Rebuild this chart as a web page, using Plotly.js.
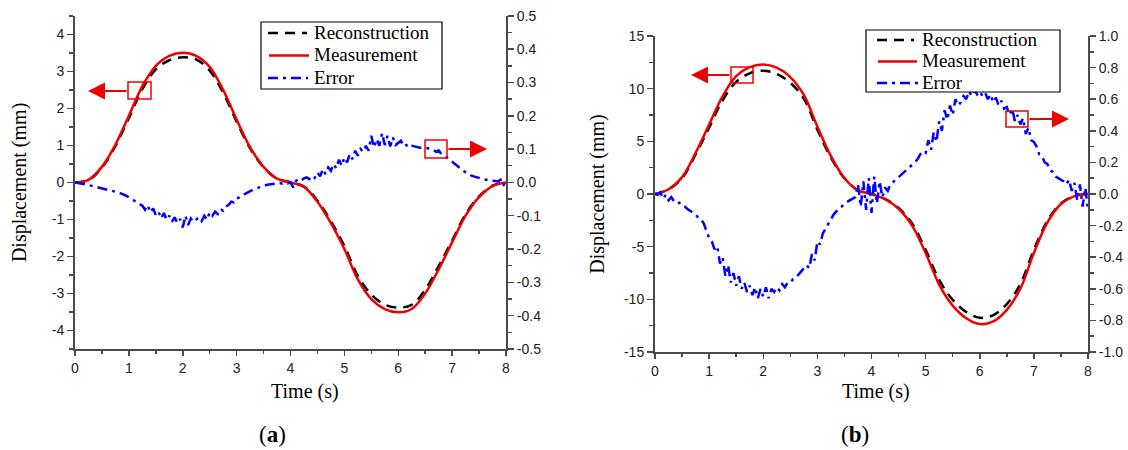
<!DOCTYPE html>
<html>
<head>
<meta charset="utf-8">
<script src="https://cdn.plot.ly/plotly-3.0.1.min.js"></script>
<style>
  html, body { margin: 0; padding: 0; background: #ffffff; }
  #chart { width: 1128px; height: 450px; }
</style>
</head>
<body>
<div id="chart"></div>
<script>
// ---- data -------------------------------------------------------------
// Time samples of the displacement curves (s)
const curveTime = [0, 0.25, 0.5, 0.75, 1, 1.25, 1.5, 1.75, 2, 2.25, 2.5, 2.75, 3, 3.25, 3.5, 3.75,
                   4, 4.25, 4.5, 4.75, 5, 5.25, 5.5, 5.75, 6, 6.25, 6.5, 6.75, 7, 7.25, 7.5, 7.75, 8];

// (a) displacement, mm
const measA = [0, 0.07, 0.42, 1.02, 1.8, 2.6, 3.15, 3.42, 3.5, 3.42, 3.12, 2.5, 1.7, 0.95, 0.42, 0.1,
               0, -0.12, -0.52, -1.1, -1.8, -2.62, -3.15, -3.42, -3.51, -3.42, -3.0, -2.35, -1.62, -0.9, -0.4, -0.1, 0];
const reconA = [0, 0.06, 0.4, 0.98, 1.74, 2.52, 3.05, 3.3, 3.38, 3.32, 3.02, 2.42, 1.64, 0.92, 0.41, 0.1,
                0, -0.11, -0.49, -1.05, -1.72, -2.52, -3.03, -3.3, -3.38, -3.31, -2.9, -2.26, -1.57, -0.86, -0.38, -0.09, 0];

// (b) displacement, mm
const measB = [0, 0.45, 1.6, 3.9, 6.6, 9.3, 11.2, 12.05, 12.3, 12.0, 11.1, 9.4, 6.4, 3.6, 1.5, 0.35,
               0, -0.5, -1.4, -3.0, -5.6, -8.6, -10.6, -11.8, -12.35, -12.1, -11.0, -9.0, -5.6, -2.7, -0.95, -0.2, 0];
const reconB = [0, 0.43, 1.5, 3.75, 6.3, 8.9, 10.65, 11.45, 11.7, 11.4, 10.55, 9.05, 6.1, 3.45, 1.5, 0.35,
                0, -0.47, -1.33, -2.8, -5.3, -8.15, -10.05, -11.2, -11.75, -11.5, -10.45, -8.55, -5.3, -2.55, -0.9, -0.19, 0];

// Error samples every 0.05 s over 0..8 s
const errTime = Array.from({length: 161}, (_, i) => +(i * 0.05).toFixed(2));

// (a) error, mm (right axis)
const errA = [
  0, -0.001, -0.002, -0.004, -0.006, -0.008, -0.010, -0.012, -0.013, -0.015,
  -0.017, -0.019, -0.020, -0.022, -0.025, -0.027, -0.030, -0.033, -0.036, -0.040,
  -0.045, -0.050, -0.055, -0.060, -0.064, -0.070, -0.082, -0.068, -0.090, -0.078,
  -0.098, -0.088, -0.108, -0.092, -0.112, -0.100, -0.118, -0.105, -0.122, -0.110,
  -0.135, -0.100, -0.128, -0.108, -0.118, -0.112, -0.105, -0.116, -0.100, -0.112,
  -0.090, -0.100, -0.088, -0.095, -0.080, -0.085, -0.072, -0.068, -0.058, -0.060,
  -0.048, -0.045, -0.038, -0.035, -0.030, -0.026, -0.022, -0.019, -0.016, -0.012,
  -0.010, -0.008, -0.006, -0.005, -0.004, -0.003, -0.002, -0.004, -0.001, -0.003,
  0.000, -0.015, 0.004, 0.010, 0.006, 0.012, 0.015, 0.010, 0.020, 0.014,
  0.030, 0.018, 0.040, 0.025, 0.045, 0.035, 0.055, 0.042, 0.068, 0.050,
  0.075, 0.060, 0.085, 0.070, 0.095, 0.080, 0.100, 0.092, 0.110, 0.095,
  0.140, 0.105, 0.130, 0.110, 0.148, 0.112, 0.140, 0.108, 0.135, 0.112,
  0.118, 0.125, 0.108, 0.112, 0.105, 0.110, 0.108, 0.106, 0.104, 0.105,
  0.104, 0.103, 0.101, 0.098, 0.092, 0.096, 0.085, 0.082, 0.075, 0.070,
  0.062, 0.055, 0.048, 0.042, 0.036, 0.030, 0.025, 0.021, 0.018, 0.015,
  0.013, 0.011, 0.009, 0.007, 0.006, 0.005, 0.004, 0.003, 0.008, -0.010,
  0.005
];

// (b) error, mm (right axis)
const errB = [
  0, -0.005, 0.010, -0.030, -0.005, -0.040, -0.020, -0.045, -0.060, -0.055,
  -0.075, -0.080, -0.095, -0.105, -0.120, -0.130, -0.150, -0.160, -0.185, -0.230,
  -0.280, -0.300, -0.350, -0.330, -0.440, -0.400, -0.520, -0.450, -0.560, -0.500,
  -0.580, -0.520, -0.600, -0.560, -0.620, -0.580, -0.640, -0.590, -0.660, -0.600,
  -0.650, -0.590, -0.660, -0.600, -0.620, -0.590, -0.610, -0.570, -0.590, -0.560,
  -0.560, -0.540, -0.530, -0.510, -0.490, -0.470, -0.450, -0.470, -0.380, -0.420,
  -0.300, -0.320, -0.250, -0.220, -0.190, -0.160, -0.130, -0.110, -0.090, -0.080,
  -0.060, -0.050, -0.040, -0.030, -0.020, 0.060, -0.080, 0.080, -0.100, 0.100,
  -0.120, 0.110, -0.060, 0.080, -0.020, 0.040, 0.020, 0.060, 0.075, 0.090,
  0.110, 0.120, 0.140, 0.150, 0.170, 0.180, 0.200, 0.220, 0.250, 0.270,
  0.260, 0.340, 0.280, 0.390, 0.330, 0.460, 0.400, 0.530, 0.470, 0.560,
  0.500, 0.600, 0.560, 0.580, 0.620, 0.600, 0.650, 0.620, 0.660, 0.630,
  0.650, 0.620, 0.640, 0.600, 0.630, 0.580, 0.610, 0.560, 0.590, 0.540,
  0.550, 0.500, 0.540, 0.460, 0.500, 0.440, 0.480, 0.380, 0.420, 0.340,
  0.330, 0.300, 0.250, 0.240, 0.200, 0.190, 0.150, 0.140, 0.110, 0.100,
  0.090, 0.080, 0.060, 0.090, 0.020, 0.070, -0.040, 0.060, -0.080, 0.040,
  -0.100
];

// Tick labels
const timeTicks = [0, 1, 2, 3, 4, 5, 6, 7, 8];
const timeTickText = ['0', '1', '2', '3', '4', '5', '6', '7', '8'];
const dispATicks = [-4, -3, -2, -1, 0, 1, 2, 3, 4];
const dispATickText = ['-4', '-3', '-2', '-1', '0', '1', '2', '3', '4'];
const errATicks = [-0.5, -0.4, -0.3, -0.2, -0.1, 0, 0.1, 0.2, 0.3, 0.4, 0.5];
const errATickText = ['-0.5', '-0.4', '-0.3', '-0.2', '-0.1', '0.0', '0.1', '0.2', '0.3', '0.4', '0.5'];
const dispBTicks = [-15, -10, -5, 0, 5, 10, 15];
const dispBTickText = ['-15', '-10', '-5', '0', '5', '10', '15'];
const errBTicks = [-1, -0.8, -0.6, -0.4, -0.2, 0, 0.2, 0.4, 0.6, 0.8, 1];
const errBTickText = ['-1.0', '-0.8', '-0.6', '-0.4', '-0.2', '0.0', '0.2', '0.4', '0.6', '0.8', '1.0'];

const seriesNames = ['Reconstruction', 'Measurement', 'Error'];
const xTitle = 'Time (s)';
const yTitle = 'Displacement (mm)';

// ---- styling ------------------------------------------------------------
const W = 1128, H = 450;
const SERIF = 'Liberation Serif';
const SANS = 'Liberation Sans';
const AXIS_COLOR = '#4a4a4a';
const RED = '#ee0000';

const seriesLines = [
  {color: '#000000', width: 2.5, dash: '10px,7px'},          // reconstruction
  {color: RED, width: 2.5, dash: 'solid'},                    // measurement
  {color: '#0000ff', width: 2.5, dash: '10px,5px,3px,5px'}    // error
];

// pixel -> paper helpers for decorations
const px = v => v / W;
const py = v => 1 - v / H;

function axisBase(extra) {
  return Object.assign({
    showgrid: false, zeroline: false, showline: true,
    linecolor: AXIS_COLOR, linewidth: 2,
    ticks: 'outside', tickcolor: AXIS_COLOR, tickwidth: 1.5,
    tickfont: {family: SANS, size: 14, color: '#222'},
    tickmode: 'array', automargin: false, fixedrange: true
  }, extra);
}
function minorTicks(step, len) {
  return {tickmode: 'linear', tick0: 0, dtick: step, ticks: 'outside', ticklen: len,
          tickcolor: AXIS_COLOR, tickwidth: 1.5};
}

function line(i, xs, ys, xa, ya, smooth) {
  return {x: xs, y: ys, name: seriesNames[i], type: 'scatter', mode: 'lines',
          line: Object.assign({shape: smooth ? 'spline' : 'linear'}, seriesLines[i]),
          xaxis: xa, yaxis: ya, showlegend: false, hoverinfo: 'skip'};
}

const traces = [
  line(0, curveTime, reconA, 'x', 'y', true),
  line(1, curveTime, measA, 'x', 'y', true),
  line(2, errTime, errA, 'x', 'y2', false),
  line(0, curveTime, reconB, 'x2', 'y3', true),
  line(1, curveTime, measB, 'x2', 'y3', true),
  line(2, errTime, errB, 'x2', 'y4', false)
];

// Framed legend: box, line samples and series names
const LEGEND_FONT = 19;
function legendBox(left, top, right, bottom, rows) {
  const shapes = [{type: 'rect', xref: 'paper', yref: 'paper', layer: 'above',
    x0: px(left), x1: px(right), y0: py(bottom), y1: py(top),
    line: {color: '#000', width: 1.2}, fillcolor: '#ffffff'}];
  const notes = [];
  rows.forEach((r, i) => {
    shapes.push({type: 'line', xref: 'paper', yref: 'paper', layer: 'above',
      x0: px(r[0]), x1: px(r[1]), y0: py(r[2]), y1: py(r[2]),
      line: seriesLines[i]});
    notes.push({xref: 'paper', yref: 'paper', x: px(r[3]), y: py(r[2] - 1),
      xanchor: 'left', yanchor: 'middle', showarrow: false, text: seriesNames[i],
      borderpad: 0, font: {family: SERIF, size: LEGEND_FONT, color: '#000'}});
  });
  return {shapes, notes};
}

function arrow(tipX, tipY, tailX) {
  return {
    xref: 'paper', yref: 'paper', x: px(tipX), y: py(tipY),
    ax: tailX - tipX, ay: 0, text: '', showarrow: true,
    arrowhead: 2, arrowsize: 1.7, arrowwidth: 2, arrowcolor: RED,
    standoff: 0, startstandoff: 0
  };
}
function box(x0, y0, x1, y1) {
  return {type: 'rect', xref: 'paper', yref: 'paper', layer: 'above',
          x0: px(x0), x1: px(x1), y0: py(y1), y1: py(y0),
          line: {color: RED, width: 1.5}, fillcolor: 'rgba(0,0,0,0)'};
}
function label(text, cx, cy, size) {
  return {xref: 'paper', yref: 'paper', x: px(cx), y: py(cy),
    xanchor: 'center', yanchor: 'middle', showarrow: false, text: text,
    font: {family: SERIF, size: size, color: '#000'}};
}

const legA = legendBox(261, 22, 442, 89, [[268, 307, 33, 313], [269, 309, 55.5, 313], [268, 308, 78, 313]]);
const legB = legendBox(866, 30, 1060, 92, [[877, 914, 40, 921], [878, 917, 61.5, 921], [877, 918, 83, 921]]);

const layout = {
  width: W, height: H,
  margin: {l: 0, r: 0, t: 0, b: 0},
  paper_bgcolor: '#ffffff', plot_bgcolor: '#ffffff',
  showlegend: false,

  xaxis: axisBase({domain: [px(75), px(506)], range: [0, 8], anchor: 'y',
    tickvals: timeTicks, ticktext: timeTickText, ticklen: 5, minor: minorTicks(0.5, 3)}),
  yaxis: axisBase({domain: [py(349), py(15.8)], range: [-4.5, 4.5], anchor: 'x',
    tickvals: dispATicks, ticktext: dispATickText, ticklen: 6, minor: minorTicks(0.5, 4),
    title: {text: yTitle, font: {family: SERIF, size: 20, color: '#000'}, standoff: 20}}),
  yaxis2: axisBase({overlaying: 'y', side: 'right', anchor: 'x', range: [-0.5, 0.5],
    tickvals: errATicks, ticktext: errATickText, ticklen: 6, minor: minorTicks(0.05, 4)}),

  xaxis2: axisBase({domain: [px(655), px(1088)], range: [0, 8], anchor: 'y3',
    tickvals: timeTicks, ticktext: timeTickText, ticklen: 5, minor: minorTicks(0.5, 3)}),
  yaxis3: axisBase({domain: [py(352), py(36)], range: [-15, 15], anchor: 'x2',
    tickvals: dispBTicks, ticktext: dispBTickText, ticklen: 6, minor: minorTicks(2.5, 4),
    title: {text: yTitle, font: {family: SERIF, size: 20, color: '#000'}, standoff: 14}}),
  yaxis4: axisBase({overlaying: 'y3', side: 'right', anchor: 'x2', range: [-1, 1],
    tickvals: errBTicks, ticktext: errBTickText, ticklen: 6, minor: minorTicks(0.1, 4)}),

  shapes: [
    box(128, 82, 151, 99),
    box(425, 140, 447, 158),
    box(731, 67, 753, 83),
    box(1006, 111, 1028, 127)
  ].concat(legA.shapes, legB.shapes),
  annotations: [
    arrow(88, 91, 128),
    arrow(487, 149, 447),
    arrow(691, 75, 731),
    arrow(1069, 119, 1028),
    label(xTitle, 305, 391, 20),
    label(xTitle, 876, 391, 20),
    label('(<b>a</b>)', 272, 434, 23),
    label('(<b>b</b>)', 855, 434, 23)
  ].concat(legA.notes, legB.notes)
};

Plotly.newPlot('chart', traces, layout, {staticPlot: true, displayModeBar: false});
</script>
</body>
</html>
